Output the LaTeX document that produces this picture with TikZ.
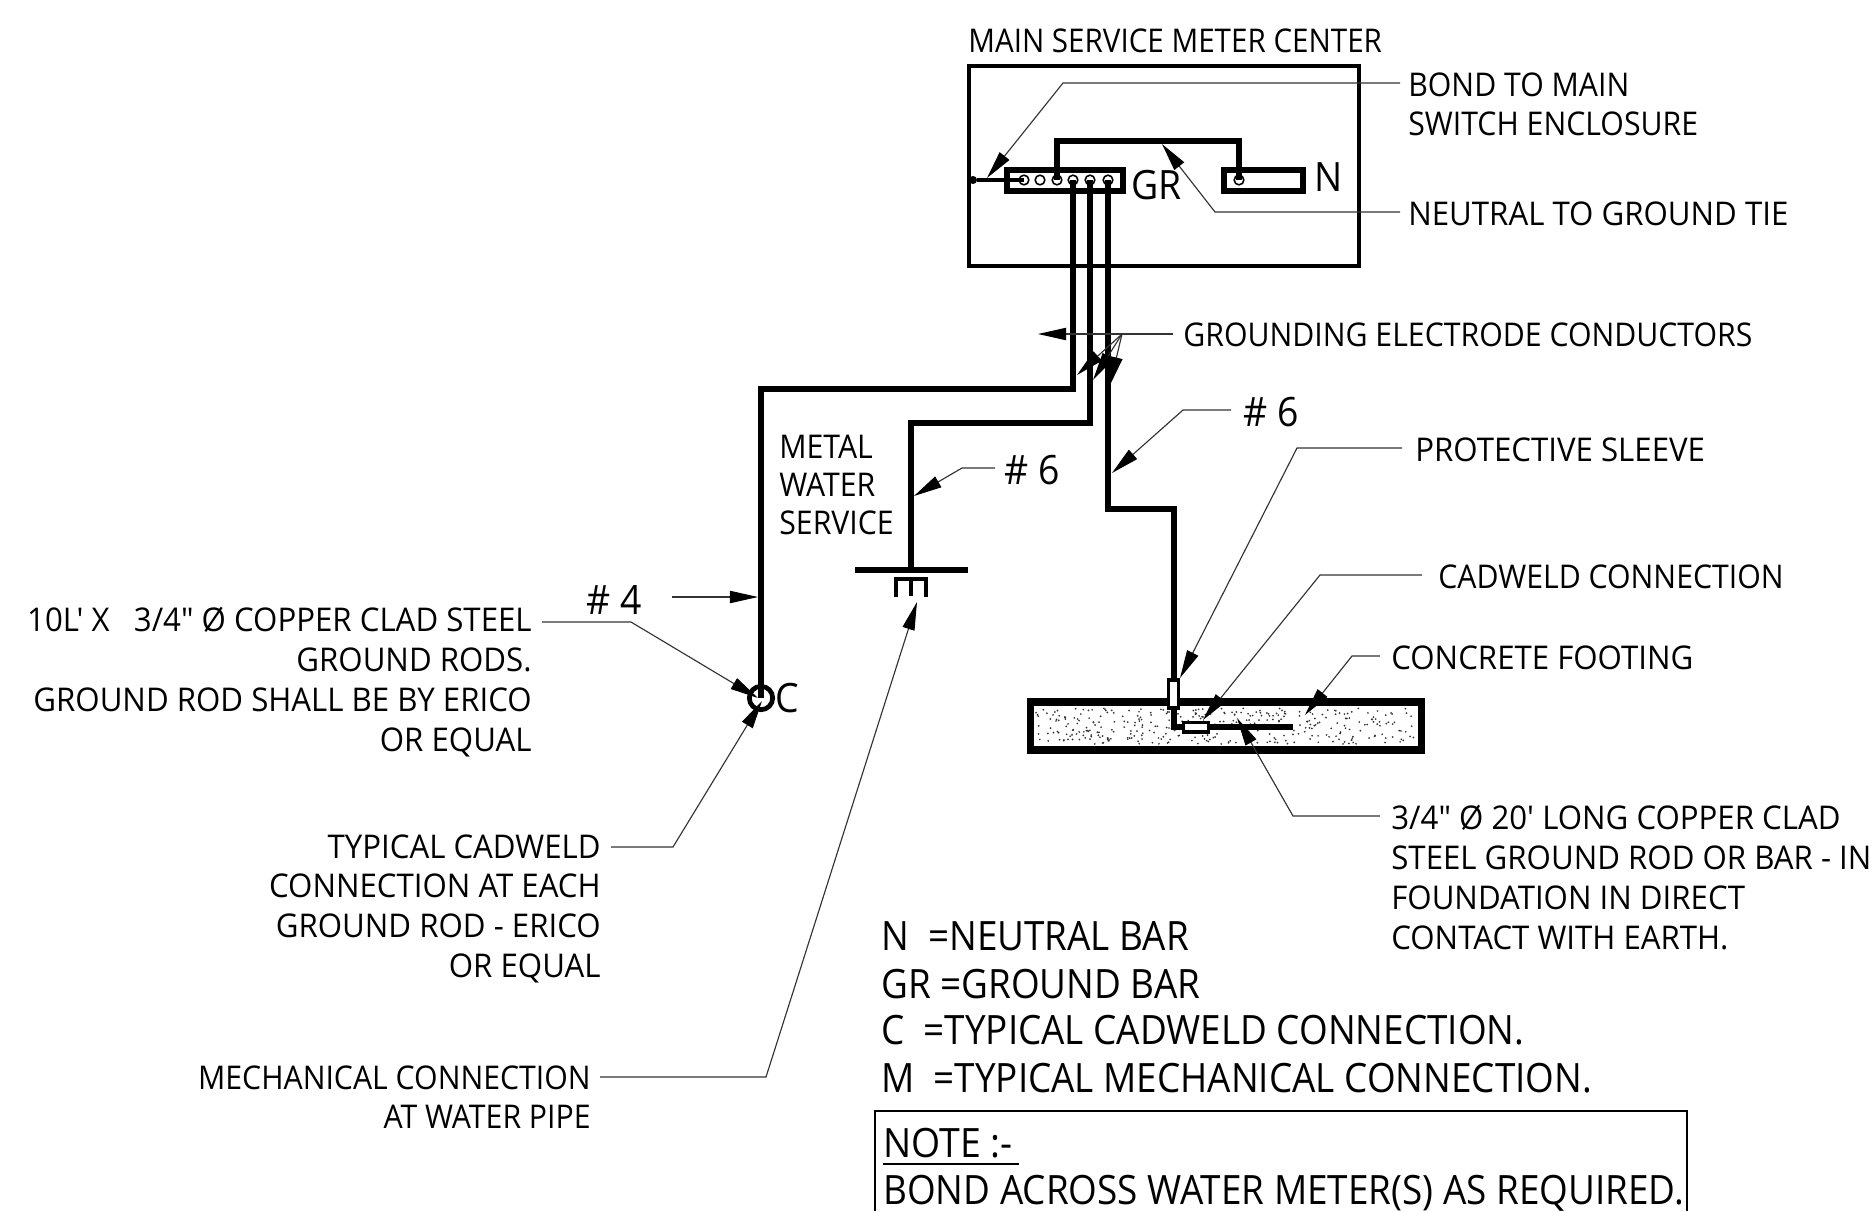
\documentclass[tikz,border=0pt]{standalone}
\usepackage{fontspec}
\setmainfont{Open Sans}[Ligatures=TeXOff,FakeStretch=0.925]
\newfontfamily\narrowfont{Open Sans}[Ligatures=TeXOff,FakeStretch=0.905]
\newfontfamily\midfont{Open Sans}[Ligatures=TeXOff,FakeStretch=0.955]
\newfontfamily\legendfont{Open Sans}[Ligatures=TeXOff,FakeStretch=0.912]
\usetikzlibrary{arrows.meta}
\newcommand{\fs}{\fontsize{18.6}{22.7}\selectfont}
\newcommand{\fl}{\fontsize{23}{27}\selectfont}
\tikzset{
  wire/.style={draw=black,line width=3.8pt,line cap=butt,line join=miter},
  thinwire/.style={draw=black,line width=2pt},
  frame/.style={draw=black,line width=2.4pt},
  lead/.style={draw=black!80,line width=.65pt,-{Triangle[length=16pt,width=7pt,fill=black,color=black]}},
  plain/.style={draw=black!80,line width=.65pt},
  txtl/.style={inner sep=0pt,anchor=north west,align=left,font=\fs},
  txtm/.style={inner sep=0pt,anchor=north west,align=left,font=\midfont\fs},
  txtr/.style={inner sep=0pt,anchor=north east,align=right,font=\midfont\fs},
  big/.style={inner sep=0pt,anchor=north west,align=left,font=\fl},
  legend/.style={inner sep=0pt,anchor=north west,align=left,font=\legendfont\fl},
  hole/.style={circle,draw=black,fill=white,line width=.9pt,inner sep=0pt,minimum size=5.5pt},
}
\begin{document}
\begin{tikzpicture}[x=0.02cm,y=-0.02cm]
\useasboundingbox (0,0) rectangle (1874,1211);
% text
\node[txtl,font=\narrowfont\fs] (tMain) at (968,28) {MAIN SERVICE METER CENTER};
\node[txtl] (tBond) at (1408,72) {BOND TO MAIN\\SWITCH ENCLOSURE};
\node[txtm] (tTie) at (1408,201) {NEUTRAL TO GROUND TIE};
\node[txtl] (tGec) at (1183,322) {GROUNDING ELECTRODE CONDUCTORS};
\node[big] (tSixR) at (1243,397) {\# 6};
\node[txtm] (tSleeve) at (1415,437) {PROTECTIVE SLEEVE};
\node[txtl] (tCad) at (1438,564) {CADWELD CONNECTION};
\node[txtm] (tFoot) at (1391,645) {CONCRETE FOOTING};
\node[txtm] (tRod) at (1391,805) {3/4" Ø 20' LONG COPPER CLAD\\STEEL GROUND ROD OR BAR - IN\\FOUNDATION IN DIRECT\\CONTACT WITH EARTH.};
\node[txtl,font=\fontsize{18.6}{21.5}\selectfont] (tMetal) at (779,435) {METAL\\WATER\\SERVICE};
\node[big] (tSixL) at (1004,455) {\# 6};
\node[big] (tFour) at (586,585) {\# 4};
\node[txtr] (tTen) at (532,607) {10L' X\ \ \ 3/4" Ø COPPER CLAD STEEL\\GROUND RODS.\\GROUND ROD SHALL BE BY ERICO\\OR EQUAL};
\node[txtr] (tTyp) at (601,834) {TYPICAL CADWELD\\CONNECTION AT EACH\\GROUND ROD - ERICO\\OR EQUAL};
\node[txtr,font=\fs] (tMech) at (591,1065) {MECHANICAL CONNECTION\\AT WATER PIPE};
\node[legend] (lN) at (881,921) {N\ \ =NEUTRAL BAR};
\node[legend] (lGR) at (881,969) {GR =GROUND BAR};
\node[legend] (lC) at (881,1015) {C\ \ =TYPICAL CADWELD CONNECTION.};
\node[legend] (lM) at (881,1063) {M\ \ =TYPICAL MECHANICAL CONNECTION.};
\node[big] (tNote) at (883,1128) {NOTE :-};
\node[legend] (tBondAcross) at (883,1175) {BOND ACROSS WATER METER(S) AS REQUIRED.};
\node[big] (tGR) at (1131,170) {GR};
\node[big] (tN) at (1314,162) {N};
\node[big] (tC) at (775,683) {C};
% stipple
\pgfmathsetseed{7}
\foreach \i in {1,...,370}{
  \pgfmathsetmacro{\dx}{1036+380*rnd}
  \pgfmathsetmacro{\dy}{708+36*rnd}
  \fill[black!80] (\dx,\dy) circle[radius=.55pt];
}
% footing
\coordinate (fa) at (1030.5,702);
\coordinate (fb) at (1421.5,750);
\draw[draw=black,line width=4.3pt] (fa) rectangle (fb);
% meter box and bars
\coordinate (ma) at (969,66);
\coordinate (mb) at (1359,266);
\draw[frame] (ma) rectangle (mb);
\coordinate (ga) at (1007,170);
\coordinate (gb) at (1123,191);
\coordinate (na) at (1224,170);
\coordinate (nb) at (1303,191);
\draw[wire] (ga) rectangle (gb);
\draw[wire,line width=3.2pt] (na) rectangle (nb);
% holes
\node[hole] (h1) at (1024,180) {};
\node[hole] (h2) at (1040,180) {};
\node[hole] (h3) at (1057,180) {};
\node[hole] (h4) at (1073,180) {};
\node[hole] (h5) at (1090,180) {};
\node[hole] (h6) at (1108,180) {};
\node[hole] (h7) at (1239,180) {};
% wires
\coordinate (tieL) at (1057,141);
\coordinate (tieR) at (1239,141);
\draw[wire] (h3.center) -- (tieL) -- (tieR) -- (h7.center);
\node[circle,fill=black,inner sep=0pt,minimum size=4.6pt] (stub) at (973,180) {};
\draw[thinwire] (stub) -- (h1.center);
\coordinate (w1) at (1073,389);
\node[circle,draw=black,line width=2.7pt,inner sep=0pt,minimum size=13.3pt] (cw) at (761,698) {};
\coordinate (w1b) at (761,389);
\draw[wire] (h4.center) -- (w1) -- (w1b) -- (cw.center);
\coordinate (w2) at (1090,423);
\coordinate (w2b) at (911,423);
\coordinate (bar) at (911,570);
\coordinate (barL) at (855,570);
\coordinate (barR) at (968,570);
\draw[wire] (h5.center) -- (w2) -- (w2b) -- (bar);
\draw[wire] (barL) -- (barR);
\coordinate (eL) at (896,597);
\coordinate (eLt) at (896,579);
\coordinate (eRt) at (926,579);
\coordinate (eR) at (926,597);
\coordinate (eM) at (911,579);
\coordinate (eMb) at (911,596);
\draw[thinwire] (eL) -- (eLt) -- (eRt) -- (eR);
\draw[thinwire] (eM) -- (eMb);
\coordinate (w3) at (1108,509);
\coordinate (w3b) at (1174,509);
\coordinate (w3c) at (1174,727);
\coordinate (w3d) at (1190,727);
\draw[wire] (h6.center) -- (w3) -- (w3b) -- (w3c) -- (w3d);
\node[draw=black,fill=white,line width=1.9pt,inner sep=0pt,minimum width=5.5pt,minimum height=16pt] (sleeve) at (1173.5,694) {};
\coordinate (rodEnd) at (1293,727);
\node[draw=black,fill=white,line width=1.9pt,inner sep=0pt,minimum width=14pt,minimum height=5.5pt] (cad) at (1196,727) {};
\draw[wire] (cad.east) -- (rodEnd);
% leaders
\coordinate (b1) at (1400,83); \coordinate (b2) at (1063,83); \coordinate (b3) at (987,178);
\draw[lead] (b1) -- (b2) -- (b3);
\coordinate (n1) at (1400,212); \coordinate (n2) at (1215,212); \coordinate (n3) at (1162,144);
\draw[lead] (n1) -- (n2) -- (n3);
\coordinate (g1) at (1173,334); \coordinate (g2) at (1122,334);
\coordinate (g3) at (1038,334); \coordinate (g4) at (1077,375); \coordinate (g5) at (1093,380); \coordinate (g6) at (1110,385);
\draw[plain] (g1) -- (g2);
\draw[lead] (g2) -- (g3);
\draw[lead] (g2) -- (g4);
\draw[lead] (g2) -- (g5);
\draw[lead] (g2) -- (g6);
\coordinate (s1) at (1231,410); \coordinate (s2) at (1183,410); \coordinate (s3) at (1112,473);
\draw[lead] (s1) -- (s2) -- (s3);
\coordinate (p1) at (1402,448); \coordinate (p2) at (1297,448); \coordinate (p3) at (1180,678);
\draw[lead] (p1) -- (p2) -- (p3);
\coordinate (c1) at (1422,575); \coordinate (c2) at (1320,575); \coordinate (c3) at (1203,720);
\draw[lead] (c1) -- (c2) -- (c3);
\coordinate (f1) at (1380,656); \coordinate (f2) at (1352,656); \coordinate (f3) at (1305,715);
\draw[lead] (f1) -- (f2) -- (f3);
\coordinate (r1) at (1380,816); \coordinate (r2) at (1293,816); \coordinate (r3) at (1237,718);
\draw[lead] (r1) -- (r2) -- (r3);
\coordinate (q1) at (995,468); \coordinate (q2) at (962,468); \coordinate (q3) at (914,496);
\draw[lead] (q1) -- (q2) -- (q3);
\coordinate (ff1) at (672,597); \coordinate (ff2) at (758,597);
\draw[lead] (ff1) -- (ff2);
\coordinate (t1) at (542,622); \coordinate (t2) at (631,622); \coordinate (t3) at (758,698);
\draw[lead] (t1) -- (t2) -- (t3);
\coordinate (y1) at (611,847); \coordinate (y2) at (673,847); \coordinate (y3) at (762,701);
\draw[lead] (y1) -- (y2) -- (y3);
\coordinate (z1) at (600,1077); \coordinate (z2) at (766,1077); \coordinate (z3) at (917,602);
\draw[lead] (z1) -- (z2) -- (z3);
% note box
\coordinate (na1) at (875,1211); \coordinate (na2) at (875,1111); \coordinate (na3) at (1687,1111); \coordinate (na4) at (1687,1211);
\draw[draw=black,line width=.8pt] (na1) -- (na2) -- (na3) -- (na4);
\coordinate (ul1) at (883,1164); \coordinate (ul2) at (1019,1164);
\draw[draw=black,line width=.8pt] (ul1) -- (ul2);
\end{tikzpicture}
\end{document}
